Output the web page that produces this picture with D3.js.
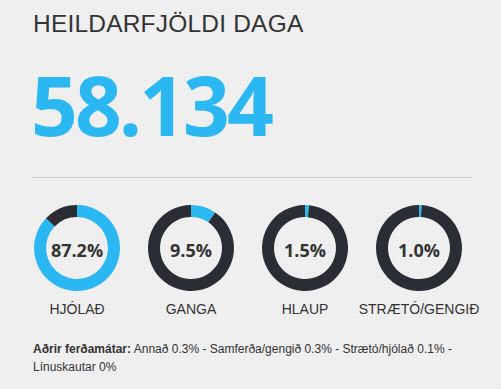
<!DOCTYPE html>
<html><head><meta charset="utf-8">
<script src="https://cdn.jsdelivr.net/npm/d3@7"></script>
<style>
html,body{margin:0;padding:0;background:#efefef;}
svg{display:block;}
</style></head>
<body>
<svg id="c" width="501" height="389"></svg>
<script>
const title = "HEILDARFJÖLDI DAGA";
const totalDays = "58.134";
const categories = ["HJÓLAÐ", "GANGA", "HLAUP", "STRÆTÓ/GENGIÐ"];
const shares = [87.2, 9.5, 1.5, 1.0];
const otherLabel = "Aðrir ferðamátar:";
const otherModes = ["Annað", "Samferða/gengið", "Strætó/hjólað", "Línuskautar"];
const otherShares = ["0.3%", "0.3%", "0.1%", "0%"];

const blue = "#2bb8f2", dark = "#2a2d33", text = "#333";
const svg = d3.select("#c");

// subtle texture
const defs = svg.append("defs");
const pat = defs.append("pattern").attr("id","tex").attr("width",4).attr("height",4).attr("patternUnits","userSpaceOnUse");
pat.append("rect").attr("width",4).attr("height",4).attr("fill","#efefef");
pat.append("rect").attr("x",0).attr("y",0).attr("width",1).attr("height",1).attr("fill","#e9e9e9");
pat.append("rect").attr("x",2).attr("y",2).attr("width",1).attr("height",1).attr("fill","#f3f3f3");
svg.append("rect").attr("width",501).attr("height",389).attr("fill","url(#tex)");

svg.append("text").attr("x",33).attr("y",32.3)
  .attr("font-family","Liberation Sans, Arial, sans-serif").attr("font-size",24.5)
  .attr("letter-spacing",0.2)
  .attr("fill",text).text(title);

svg.append("text").attr("x",31).attr("y",136)
  .attr("font-family","Open Sans, sans-serif").attr("font-weight",700).attr("font-size",82)
  .attr("letter-spacing",-3)
  .attr("fill",blue).text(totalDays);

svg.append("line").attr("x1",33).attr("x2",472).attr("y1",177.5).attr("y2",177.5)
  .attr("stroke","#cfcfcf").attr("stroke-width",1);

const x = d3.scalePoint().domain(categories).range([77, 419]);
const cy = 248, rOut = 43, rIn = 31;
const arc = d3.arc().innerRadius(rIn).outerRadius(rOut);
const pie = d3.pie().sort(null).value(d => d);

const g = svg.selectAll("g.donut").data(categories.map((c,i)=>({c, v:shares[i]})))
  .enter().append("g").attr("class","donut")
  .attr("transform", d => `translate(${x(d.c)},${cy})`);

g.selectAll("path").data(d => pie([d.v, 100 - d.v]))
  .enter().append("path").attr("d", arc)
  .attr("fill", (d,i) => i === 0 ? blue : dark);

g.append("text").attr("text-anchor","middle").attr("y",9)
  .attr("font-family","Open Sans, sans-serif").attr("font-weight",700).attr("font-size",18)
  .attr("fill",text).text(d => d.v.toFixed(1) + "%");

g.append("text").attr("text-anchor","middle").attr("y",65.5)
  .attr("font-family","Liberation Sans, Arial, sans-serif").attr("font-size",14)
  .attr("fill",text).text(d => d.c);

const parts = otherModes.map((m,i) => m + " " + otherShares[i]);
const line1 = parts.slice(0,3).join(" - ") + " -";
const line2 = parts[3];
const t1 = svg.append("text").attr("x",33).attr("y",353)
  .attr("font-family","Liberation Sans, Arial, sans-serif").attr("font-size",12).attr("fill",text);
t1.append("tspan").attr("font-weight",700).text(otherLabel);
t1.append("tspan").text(" " + line1);
svg.append("text").attr("x",33).attr("y",371)
  .attr("font-family","Liberation Sans, Arial, sans-serif").attr("font-size",12).attr("fill",text)
  .text(line2);
</script>
</body></html>
